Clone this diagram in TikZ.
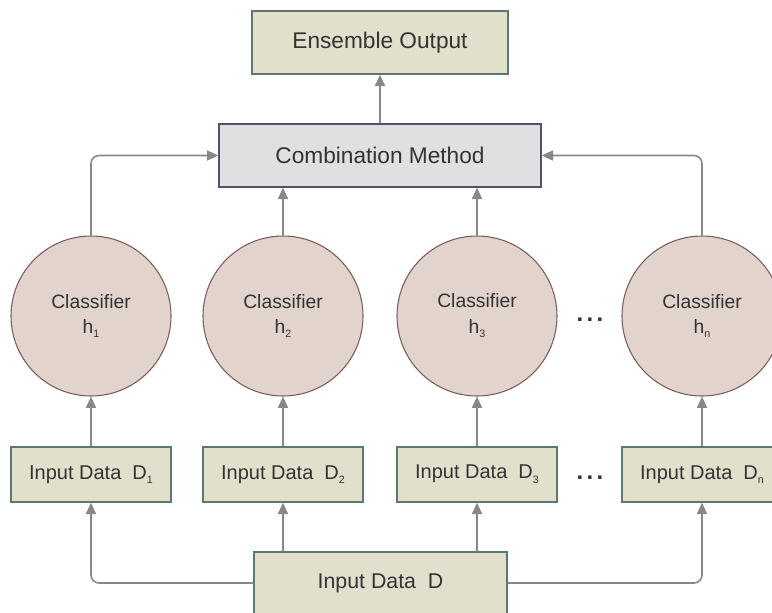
\documentclass[tikz,border=0pt]{standalone}
\usepackage{fontspec}
\setmainfont{Liberation Sans}
\usetikzlibrary{arrows.meta}
\definecolor{boxfill}{RGB}{226,223,204}
\definecolor{boxline}{RGB}{92,122,106}
\definecolor{combfill}{RGB}{225,223,226}
\definecolor{combline}{RGB}{84,80,112}
\definecolor{clsfill}{RGB}{226,212,205}
\definecolor{clsline}{RGB}{122,92,92}
\definecolor{linkgray}{RGB}{136,136,136}
\definecolor{txtgray}{RGB}{51,51,51}
\newcommand{\lowidx}[1]{\raisebox{-0.45ex}{\fontsize{8}{8}\selectfont #1}}
\tikzset{
  databox/.style={draw=boxline, fill=boxfill, line width=1pt, inner sep=0pt,
    minimum width=120pt, minimum height=41.25pt, text=txtgray, font=\fontsize{15}{18}\selectfont},
  classnode/.style={circle, draw=clsline, fill=clsfill, line width=0.8pt, inner sep=0pt,
    minimum size=120pt, text=txtgray, align=center, font=\fontsize{14.5}{19}\selectfont},
  dotsnode/.style={text=txtgray, font=\fontsize{18}{20}\selectfont\bfseries},
  link/.style={draw=linkgray, line width=1.2pt, rounded corners=6pt,
    -{Triangle[length=8.5pt,width=7.5pt]}},
}
\begin{document}
\begin{tikzpicture}[x=0.75pt,y=0.75pt,yscale=-1,xscale=1]
\clip (0,0) rectangle (772,612);

% Top boxes
\node [databox, minimum width=192pt, minimum height=47.25pt, font=\fontsize{17}{20}\selectfont] (out) at (380,42.5) {Ensemble Output};
\node [draw=combline, fill=combfill, line width=1pt, minimum width=241.5pt, minimum height=47.25pt,
  text=txtgray, font=\fontsize{17}{20}\selectfont] (comb) at (380,155.5) {Combination Method};

% Classifiers
\node [classnode] (c1) at (91,316) {Classifier\\h\lowidx{1}};
\node [classnode] (c2) at (283,316) {Classifier\\h\lowidx{2}};
\node [classnode] (c3) at (477,316) {Classifier\\h\lowidx{3}};
\node [classnode] (cn) at (702,316) {Classifier\\h\lowidx{n}};
\node [dotsnode] (cdots) at (590,320) {.\kern2.5pt.\kern2.5pt.};

% Input data boxes
\node [databox] (d1) at (91,474.5) {Input Data~~D\lowidx{1}};
\node [databox] (d2) at (283,474.5) {Input Data~~D\lowidx{2}};
\node [databox] (d3) at (477,474.5) {Input Data~~D\lowidx{3}};
\node [databox] (dn) at (702,474.5) {Input Data~~D\lowidx{n}};
\node [dotsnode] (ddots) at (590,478) {.\kern2.5pt.\kern2.5pt.};
\node [databox, minimum width=189.75pt, minimum height=46.5pt, font=\fontsize{16}{19}\selectfont] (din) at (380.5,583) {Input Data~~D};

% Links
\draw [link] (comb) -- (out);
\draw [link] (c1.north) |- (comb.west);
\draw [link] (cn.north) |- (comb.east);
\draw [link] (c2.north) -- (c2.north |- comb.south);
\draw [link] (c3.north) -- (c3.north |- comb.south);
\foreach \k in {1,2,3,n} {
  \draw [link] (d\k.north) -- (c\k.south);
}
\draw [link] (din.west) -| (d1.south);
\draw [link] (din.east) -| (dn.south);
\draw [link] (d2.south |- din.north) -- (d2.south);
\draw [link] (d3.south |- din.north) -- (d3.south);

\end{tikzpicture}
\end{document}
